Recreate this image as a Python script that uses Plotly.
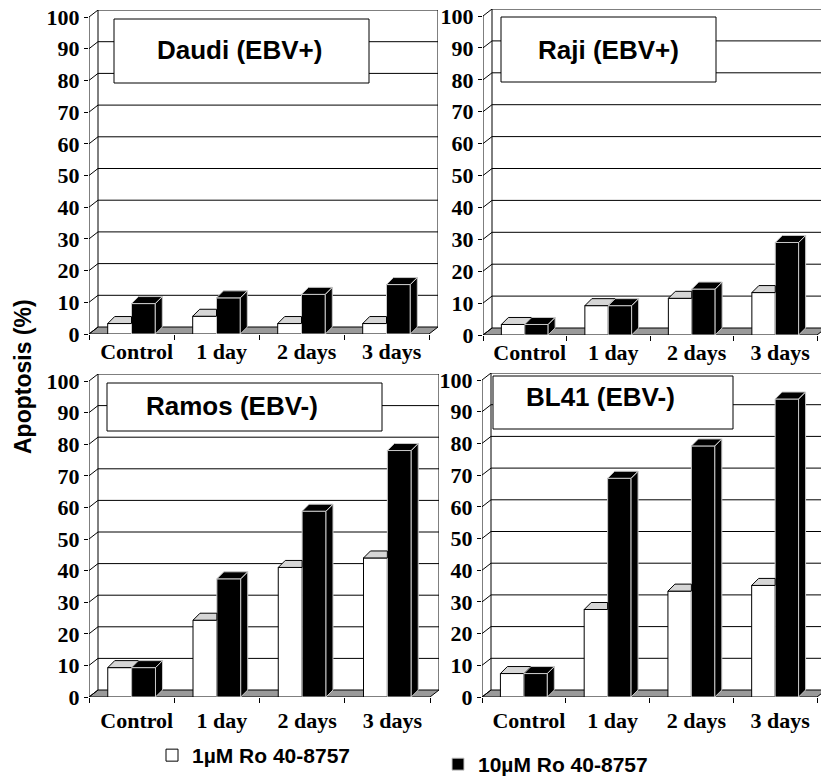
import plotly.graph_objects as go

W, H = 821, 777

# ---------------- data ----------------
categories = ["Control", "1 day", "2 days", "3 days"]
panel_titles = ["Daudi (EBV+)", "Raji (EBV+)", "Ramos (EBV-)", "BL41 (EBV-)"]
series_names = ["1µM Ro 40-8757", "10µM Ro 40-8757"]
y_ticks = [0, 10, 20, 30, 40, 50, 60, 70, 80, 90, 100]

daudi_1uM = [3.3, 5.6, 3.3, 3.3]
daudi_10uM = [9.6, 11.4, 12.5, 15.6]
raji_1uM = [3.3, 9.2, 11.5, 13.3]
raji_10uM = [3.3, 9.2, 14.4, 29.0]
ramos_1uM = [9.3, 24.3, 41.0, 44.0]
ramos_10uM = [9.3, 37.4, 58.8, 78.0]
bl41_1uM = [7.4, 27.6, 33.4, 35.2]
bl41_10uM = [7.4, 69.0, 79.2, 94.0]

low_series = [daudi_1uM, raji_1uM, ramos_1uM, bl41_1uM]
high_series = [daudi_10uM, raji_10uM, ramos_10uM, bl41_10uM]

# ---------------- layout geometry (pixels) ----------------
# L/R: front x-axis ends, B: value 0, T: value 100; box: title frame
panels = [
    dict(L=89, R=429, B=334, T=17, box=(114, 19, 369, 83), tc=(239, 50), stand=-7),
    dict(L=483, R=817, B=335, T=16, box=(501, 17, 716, 82), tc=(608, 50), stand=-7),
    dict(L=89, R=430, B=697, T=381, box=(107, 383, 382, 431), tc=(232, 406), stand=-1),
    dict(L=482, R=817, B=697, T=380, box=(493, 376, 733, 429), tc=(600, 397), stand=-1),
]
WALL_DX, WALL_DY = 9, 7
BAR_DX, BAR_DY = 7, 7
BAR_W = 0.28
LABEL_SHIFT = 0.06

SERIF = "Liberation Serif"
SANS = "Liberation Sans"
WHITE_TOP = "#d6d6d6"
BLACK_EDGE = "#c8c8c8"
FLOOR = "#9a9a9a"


def pxx(p):
    return p / W


def pxy(p):
    return 1 - p / H


fig = go.Figure()
shapes = []
annotations = []
layout_axes = {}

for k, pan in enumerate(panels):
    sfx = "" if k == 0 else str(k + 1)
    xa, ya = "x" + sfx, "y" + sfx
    L, R, B, T = pan["L"], pan["R"], pan["B"], pan["T"]
    ncat = len(categories)
    ux = (R - L) / ncat
    uy = (B - T) / 100.0
    dxw, dyw = WALL_DX / ux, WALL_DY / uy
    dxb, dyb = BAR_DX / ux, BAR_DY / uy
    right_px = min(R + WALL_DX, W)
    xmin = -0.5
    xfront = ncat - 0.5
    xmax = xfront + (right_px - R) / ux
    ytop = 100 + dyw

    layout_axes["xaxis" + sfx] = dict(
        domain=[pxx(L), pxx(right_px)], range=[xmin, xmax], anchor=ya,
        showgrid=False, zeroline=False, showline=False, fixedrange=True,
        automargin=False,
        tickmode="array", tickvals=[i + LABEL_SHIFT for i in range(ncat)],
        ticktext=categories, ticks="outside", ticklen=5,
        ticklabelstandoff=pan["stand"],
        tickcolor="rgba(0,0,0,0)",
        tickfont=dict(family=SERIF, size=22, color="black", weight="bold"),
        minor=dict(tickmode="array", tickvals=[i - 0.5 for i in range(ncat + 1)],
                   ticks="outside", ticklen=5, tickcolor="black", tickwidth=1),
    )
    layout_axes["yaxis" + sfx] = dict(
        domain=[pxy(B), pxy(T - WALL_DY)], range=[0, ytop], anchor=xa,
        showgrid=False, zeroline=False, showline=False, fixedrange=True,
        automargin=False,
        tickmode="array", tickvals=y_ticks, ticks="outside", ticklen=4,
        tickcolor="black",
        tickfont=dict(family=SERIF, size=22, color="black", weight="bold"),
    )

    def seg(x0, y0, x1, y1, color="black", width=1, layer="below"):
        shapes.append(dict(type="line", xref=xa, yref=ya, x0=x0, y0=y0, x1=x1, y1=y1,
                           line=dict(color=color, width=width), layer=layer))

    # floor
    shapes.append(dict(
        type="path", xref=xa, yref=ya, layer="below",
        path=f"M {xmin},0 L {xfront},0 L {xfront + dxw},{dyw} L {xmin + dxw},{dyw} Z",
        fillcolor=FLOOR, line=dict(color="black", width=1)))
    # back wall grid lines and side-wall diagonals
    for v in y_ticks:
        if v > 0:
            seg(xmin + dxw, v + dyw, xfront + dxw, v + dyw)
        seg(xmin, v, xmin + dxw, v + dyw)
    seg(xmin + dxw, dyw, xmin + dxw, ytop)
    seg(xfront + dxw, dyw, xfront + dxw, ytop)
    seg(xmin, 0, xmin, 100)

    lo = low_series[k]
    hi = high_series[k]
    xs = list(range(ncat))

    # front faces
    fig.add_trace(go.Bar(
        x=xs, y=lo, width=BAR_W, offset=-BAR_W, xaxis=xa, yaxis=ya,
        marker=dict(color="white", line=dict(color="black", width=1)),
        name=series_names[0], showlegend=(k == 0), legend="legend",
        hoverinfo="skip"))
    fig.add_trace(go.Bar(
        x=xs, y=hi, width=BAR_W, offset=0, xaxis=xa, yaxis=ya,
        marker=dict(color="black", line=dict(color=BLACK_EDGE, width=1)),
        name=series_names[1], showlegend=(k == 0), legend="legend2",
        hoverinfo="skip"))

    # white bar tops (clipped where the black bar in front hides them)
    px_, py_ = [], []
    for i, (v, vb) in enumerate(zip(lo, hi)):
        x0, x1 = i - BAR_W, i
        vc = min(max(vb, v), v + dyb)
        pts = [(x0, v), (x1, v), (x1, vc)]
        if vc < v + dyb:
            pts += [(x1 + dxb * (vc - v) / dyb, vc), (x1 + dxb, v + dyb)]
        pts += [(x0 + dxb, v + dyb), (x0, v)]
        px_ += [p[0] for p in pts] + [None]
        py_ += [p[1] for p in pts] + [None]
    fig.add_trace(go.Scatter(
        x=px_, y=py_, xaxis=xa, yaxis=ya, mode="lines", fill="toself",
        fillcolor=WHITE_TOP, line=dict(color="black", width=1),
        showlegend=False, hoverinfo="skip"))

    # black bar tops and sides
    px_, py_ = [], []
    for i, vb in enumerate(hi):
        x1, x2 = i, i + BAR_W
        top = [(x1, vb), (x2, vb), (x2 + dxb, vb + dyb), (x1 + dxb, vb + dyb), (x1, vb)]
        side = [(x2, 0), (x2, vb), (x2 + dxb, vb + dyb), (x2 + dxb, dyb), (x2, 0)]
        for poly in (side, top):
            px_ += [p[0] for p in poly] + [None]
            py_ += [p[1] for p in poly] + [None]
    fig.add_trace(go.Scatter(
        x=px_, y=py_, xaxis=xa, yaxis=ya, mode="lines", fill="toself",
        fillcolor="black", line=dict(color=BLACK_EDGE, width=1),
        showlegend=False, hoverinfo="skip"))

    # title frame and text
    bx0, by0, bx1, by1 = pan["box"]
    shapes.append(dict(type="rect", xref="paper", yref="paper", layer="above",
                       x0=pxx(bx0), x1=pxx(bx1), y0=pxy(by1), y1=pxy(by0),
                       fillcolor="white", line=dict(color="black", width=1)))
    annotations.append(dict(
        text=panel_titles[k], xref="paper", yref="paper",
        x=pxx(pan["tc"][0]), y=pxy(pan["tc"][1]), xanchor="center", yanchor="middle",
        showarrow=False, font=dict(family=SANS, size=26, color="black", weight="bold")))

annotations.append(dict(
    text="Apoptosis (%)", xref="paper", yref="paper", x=pxx(23), y=pxy(377),
    xanchor="center", yanchor="middle", textangle=-90, showarrow=False,
    font=dict(family=SANS, size=23, color="black", weight="bold")))

legend_font = dict(family=SANS, size=21, color="black", weight="bold")
fig.update_layout(
    width=W, height=H, autosize=False,
    margin=dict(l=0, r=0, t=0, b=0, autoexpand=False),
    paper_bgcolor="white", plot_bgcolor="rgba(0,0,0,0)",
    barmode="overlay",
    shapes=shapes, annotations=annotations,
    legend=dict(x=pxx(152), y=pxy(735), xanchor="left", yanchor="top",
                font=legend_font, bgcolor="rgba(0,0,0,0)", itemclick=False,
                itemdoubleclick=False),
    legend2=dict(x=pxx(438), y=pxy(744), xanchor="left", yanchor="top",
                 font=legend_font, bgcolor="rgba(0,0,0,0)", itemclick=False,
                 itemdoubleclick=False),
    **layout_axes,
)

fig.write_html("out.html")
